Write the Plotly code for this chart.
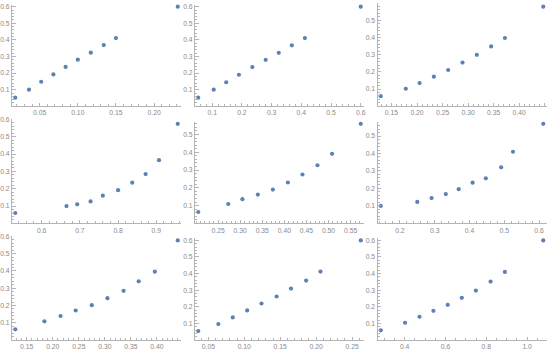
import plotly.graph_objects as go

# ---- data ----
p1_x = [0.018, 0.036, 0.052, 0.068, 0.084, 0.100, 0.117, 0.134, 0.150, 0.231]
p1_y = [0.052, 0.100, 0.148, 0.192, 0.237, 0.281, 0.323, 0.369, 0.411, 0.600]
p2_x = [0.053, 0.105, 0.147, 0.190, 0.235, 0.280, 0.324, 0.368, 0.412, 0.600]
p2_y = [0.052, 0.100, 0.145, 0.190, 0.236, 0.280, 0.322, 0.367, 0.411, 0.600]
p3_x = [0.129, 0.178, 0.205, 0.233, 0.261, 0.289, 0.317, 0.345, 0.372, 0.447]
p3_y = [0.059, 0.102, 0.135, 0.172, 0.211, 0.254, 0.299, 0.348, 0.397, 0.579]
p4_x = [0.531, 0.665, 0.693, 0.728, 0.760, 0.800, 0.837, 0.872, 0.907, 0.956]
p4_y = [0.060, 0.100, 0.110, 0.127, 0.160, 0.192, 0.235, 0.285, 0.365, 0.575]
p5_x = [0.205, 0.273, 0.305, 0.340, 0.374, 0.408, 0.441, 0.475, 0.508, 0.573]
p5_y = [0.064, 0.109, 0.136, 0.162, 0.190, 0.230, 0.275, 0.327, 0.391, 0.560]
p6_x = [0.145, 0.250, 0.291, 0.332, 0.369, 0.409, 0.447, 0.491, 0.525, 0.612]
p6_y = [0.100, 0.123, 0.145, 0.168, 0.196, 0.233, 0.258, 0.321, 0.410, 0.570]
p7_x = [0.128, 0.184, 0.215, 0.244, 0.275, 0.305, 0.336, 0.365, 0.396, 0.440]
p7_y = [0.062, 0.108, 0.139, 0.171, 0.202, 0.242, 0.285, 0.340, 0.396, 0.577]
p8_x = [0.036, 0.064, 0.084, 0.104, 0.124, 0.145, 0.165, 0.186, 0.206, 0.262]
p8_y = [0.054, 0.096, 0.136, 0.178, 0.220, 0.262, 0.310, 0.358, 0.412, 0.600]
p9_x = [0.283, 0.402, 0.473, 0.541, 0.611, 0.680, 0.749, 0.821, 0.891, 1.079]
p9_y = [0.058, 0.104, 0.140, 0.176, 0.212, 0.254, 0.298, 0.352, 0.410, 0.600]

xticks_1 = [0.05, 0.10, 0.15, 0.20]
xticks_2 = [0.1, 0.2, 0.3, 0.4, 0.5, 0.6]
xticks_3 = [0.15, 0.20, 0.25, 0.30, 0.35, 0.40, 0.45]
xticks_4 = [0.6, 0.7, 0.8, 0.9]
xticks_5 = [0.25, 0.30, 0.35, 0.40, 0.45, 0.50, 0.55]
xticks_6 = [0.2, 0.3, 0.4, 0.5, 0.6]
xticks_7 = [0.15, 0.20, 0.25, 0.30, 0.35, 0.40]
xticks_8 = [0.05, 0.10, 0.15, 0.20, 0.25]
xticks_9 = [0.4, 0.6, 0.8, 1.0]
yticks_a = [0.1, 0.2, 0.3, 0.4, 0.5, 0.6]
yticks_b = [0.1, 0.2, 0.3, 0.4, 0.5]

panels = [
    (p1_x, p1_y, xticks_1, ".2f", 0.01, yticks_a),
    (p2_x, p2_y, xticks_2, ".1f", 0.02, yticks_a),
    (p3_x, p3_y, xticks_3, ".2f", 0.01, yticks_a),
    (p4_x, p4_y, xticks_4, ".1f", 0.02, yticks_a),
    (p5_x, p5_y, xticks_5, ".2f", 0.01, yticks_b),
    (p6_x, p6_y, xticks_6, ".1f", 0.02, yticks_b),
    (p7_x, p7_y, xticks_7, ".2f", 0.01, yticks_a),
    (p8_x, p8_y, xticks_8, ".2f", 0.01, yticks_a),
    (p9_x, p9_y, xticks_9, ".1f", 0.05, yticks_a),
]

W, H = 550, 349
col_left = [12, 195, 377.5]
col_width = 169
row_bottom = [106.3, 223.4, 340.0]
row_height = 101.6

AX = "#b4b4b4"
TXT = "#8a8a8a"
DOT = "#5E81B5"

fig = go.Figure()
layout = dict(template="none", width=W, height=H,
              margin=dict(l=0, r=0, t=0, b=0, pad=0, autoexpand=False),
              paper_bgcolor="white", plot_bgcolor="white", showlegend=False)

for i, (xs, ys, xt, xfmt, xminor, yt) in enumerate(panels):
    r, c = divmod(i, 3)
    n = "" if i == 0 else str(i + 1)
    L = col_left[c]
    R = L + col_width
    B = row_bottom[r]
    xmin, xmax = min(xs), max(xs)
    span = xmax - xmin
    xr = [xmin - 0.02 * span, xmax + 0.02 * span]
    ytop = max(ys) * 1.02
    scale = row_height / ytop
    ytop = max(ytop, max(yt) + 0.001)   # keep the top tick label inside
    T = B - ytop * scale
    yr = [0, ytop]
    fig.add_trace(go.Scatter(x=xs, y=ys, mode="markers",
                             marker=dict(color=DOT, size=4.2, line=dict(width=0)),
                             xaxis="x" + n, yaxis="y" + n,
                             cliponaxis=False))
    common = dict(showline=True, linecolor=AX, linewidth=1, showgrid=False,
                  zeroline=False, ticks="inside", ticklen=3.5, tickcolor=AX,
                  tickwidth=1, automargin=False, autorange=False,
                  tickfont=dict(family="Liberation Sans", size=6.8, color=TXT))
    layout["xaxis" + n] = dict(common, domain=[L / W, R / W], range=xr,
                               anchor="y" + n, tickvals=xt, tickformat=xfmt,
                               minor=dict(dtick=xminor, tick0=0, ticks="inside",
                                          ticklen=2, tickcolor=AX, showgrid=False))
    layout["yaxis" + n] = dict(common, domain=[1 - B / H, 1 - T / H], range=yr,
                               anchor="x" + n, tickvals=yt, tickformat=".1f",
                               minor=dict(dtick=0.02, tick0=0, ticks="inside",
                                          ticklen=2, tickcolor=AX, showgrid=False))

fig.update_layout(**layout)
fig.write_html("out.html", config={"displayModeBar": False},
               post_script="document.body.style.margin='0';document.body.style.overflow='hidden';")
